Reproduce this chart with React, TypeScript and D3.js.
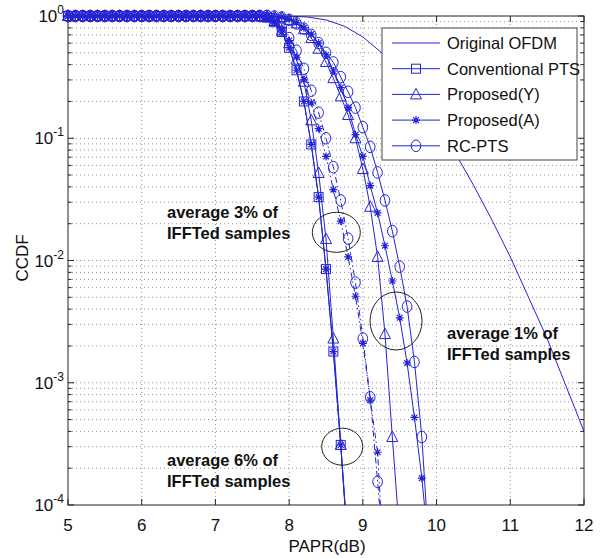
import React, { useEffect, useRef } from "react";
import * as d3 from "d3";

// PAPR grid (dB) shared by the marked curves
const paprGrid = [
  5.0, 5.1, 5.2, 5.3, 5.4, 5.5, 5.6, 5.7, 5.8, 5.9,
  6.0, 6.1, 6.2, 6.3, 6.4, 6.5, 6.6, 6.7, 6.8, 6.9,
  7.0, 7.1, 7.2, 7.3, 7.4, 7.5, 7.6, 7.7, 7.8, 7.9,
  8.0, 8.1, 8.2, 8.3, 8.4, 8.5, 8.6, 8.7, 8.8, 8.9,
  9.0, 9.1, 9.2, 9.3, 9.4, 9.5, 9.6, 9.7, 9.8, 9.9,
];

// Original OFDM (no markers)
const ofdmPapr = [5, 6, 7, 7.5, 8, 8.25, 8.5, 8.75, 9, 9.25, 9.5, 9.75, 10, 10.25, 10.5, 10.75, 11, 11.5, 12];
const ofdmCcdf = [1, 1, 1, 1, 0.997, 0.981, 0.929, 0.825, 0.674, 0.503, 0.346, 0.221, 0.133, 0.0763, 0.0414, 0.0215, 0.0107, 0.0023, 0.0004];

// Conventional PTS
const convPts = [
  1, 1, 1, 1, 1, 1, 1, 1, 1, 1,
  1, 1, 1, 1, 1, 1, 1, 1, 1, 1,
  1, 1, 1, 1, 1, 1, 0.995, 0.97, 0.89, 0.74,
  0.55, 0.36, 0.2, 0.089, 0.033, 0.0085, 0.0018, 0.00031, 0.000045,
];
// average 6%: Proposed(A) lies on top of conventional PTS
const propA6 = [
  1, 1, 1, 1, 1, 1, 1, 1, 1, 1,
  1, 1, 1, 1, 1, 1, 1, 1, 1, 1,
  1, 1, 1, 1, 1, 1, 0.995, 0.97, 0.89, 0.74,
  0.55, 0.36, 0.2, 0.089, 0.033, 0.0085, 0.0018, 0.00031, 0.000045,
];
// average 3%
const propY3 = [
  1, 1, 1, 1, 1, 1, 1, 1, 1, 1,
  1, 1, 1, 1, 1, 1, 1, 1, 1, 1,
  1, 1, 1, 1, 1, 1, 1, 0.98, 0.91, 0.76,
  0.6, 0.44, 0.29, 0.14, 0.052, 0.015, 0.0023, 0.00031, 0.00004,
];
const propA3 = [
  1, 1, 1, 1, 1, 1, 1, 1, 1, 1,
  1, 1, 1, 1, 1, 1, 1, 1, 1, 1,
  1, 1, 1, 1, 1, 1, 1, 0.98, 0.91, 0.79,
  0.63, 0.46, 0.3, 0.195, 0.12, 0.071, 0.038, 0.021, 0.0107, 0.0051,
  0.0021, 0.00072, 0.00027, 0.000022,
];
const rcPts3 = [
  1, 1, 1, 1, 1, 1, 1, 1, 1, 1,
  1, 1, 1, 1, 1, 1, 1, 1, 1, 1,
  1, 1, 1, 1, 1, 1, 1, 1, 0.94, 0.8,
  0.66, 0.52, 0.37, 0.245, 0.162, 0.1, 0.058, 0.031, 0.0151, 0.0066,
  0.0023, 0.00076, 0.000155, 0.00003,
];
// average 1%
const propY1 = [
  1, 1, 1, 1, 1, 1, 1, 1, 1, 1,
  1, 1, 1, 1, 1, 1, 1, 1, 1, 1,
  1, 1, 1, 1, 1, 1, 1, 1, 0.995, 0.98,
  0.93, 0.87, 0.78, 0.66, 0.54, 0.42, 0.31, 0.22, 0.155, 0.1,
  0.056, 0.0275, 0.0107, 0.0025, 0.00036, 0.000055,
];
const propA1 = [
  1, 1, 1, 1, 1, 1, 1, 1, 1, 1,
  1, 1, 1, 1, 1, 1, 1, 1, 1, 1,
  1, 1, 1, 1, 1, 1, 1, 1, 0.995, 0.98,
  0.94, 0.88, 0.8, 0.71, 0.6, 0.48, 0.355, 0.26, 0.178, 0.107,
  0.071, 0.041, 0.0245, 0.0132, 0.0068, 0.0034, 0.00145, 0.00052, 0.000166, 0.00004,
];
const rcPts1 = [
  1, 1, 1, 1, 1, 1, 1, 1, 1, 1,
  1, 1, 1, 1, 1, 1, 1, 1, 1, 1,
  1, 1, 1, 1, 1, 1, 1, 1, 0.99, 0.97,
  0.93, 0.87, 0.79, 0.7, 0.6, 0.5, 0.417, 0.316, 0.24, 0.178,
  0.123, 0.085, 0.0525, 0.031, 0.0174, 0.0089, 0.0042, 0.00148, 0.00036, 0.00004,
];

const legendLabels = ["Original OFDM", "Conventional PTS", "Proposed(Y)", "Proposed(A)", "RC-PTS"];
const legendMarkers = ["none", "square", "triangle", "star", "circle"];

const xTicks = [5, 6, 7, 8, 9, 10, 11, 12];
const yDecades = [1, 0.1, 0.01, 0.001, 0.0001];

// annotation ellipses: centre in data units
const notes = [
  { papr: 8.64, ccdf: 0.017, rx: 24, ry: 20, text: ["average 3% of", "IFFTed samples"], tx: 167, ty: 218 },
  { papr: 9.45, ccdf: 0.0032, rx: 26, ry: 29, text: ["average 1% of", "IFFTed samples"], tx: 447, ty: 339 },
  { papr: 8.72, ccdf: 0.0003, rx: 20.5, ry: 18.5, text: ["average 6% of", "IFFTed samples"], tx: 167, ty: 466 },
];

const BLUE = "#2424d4";
const FONT = "'Liberation Sans', Arial, sans-serif";

function drawMarker(g: any, kind: string, cx: number, cy: number) {
  if (kind === "square") {
    g.append("rect").attr("x", cx - 4.5).attr("y", cy - 4.5).attr("width", 9).attr("height", 9)
      .attr("fill", "none").attr("stroke", BLUE).attr("stroke-width", 1);
  } else if (kind === "triangle") {
    g.append("path").attr("d", `M${cx},${cy - 6}L${cx + 5.5},${cy + 4.5}L${cx - 5.5},${cy + 4.5}Z`)
      .attr("fill", "none").attr("stroke", BLUE).attr("stroke-width", 1);
  } else if (kind === "circle") {
    g.append("ellipse").attr("cx", cx).attr("cy", cy).attr("rx", 4.8).attr("ry", 5.8)
      .attr("fill", "none").attr("stroke", BLUE).attr("stroke-width", 1);
  } else if (kind === "star") {
    const s = 4;
    const d = 2.9;
    g.append("path")
      .attr("d", `M${cx - s},${cy}H${cx + s}M${cx},${cy - s}V${cy + s}M${cx - d},${cy - d}L${cx + d},${cy + d}M${cx - d},${cy + d}L${cx + d},${cy - d}`)
      .attr("stroke", BLUE).attr("stroke-width", 1.2).attr("fill", "none");
  }
}

export default function App() {
  const ref = useRef<SVGSVGElement>(null);

  useEffect(() => {
    const svg = d3.select(ref.current);
    svg.selectAll("*").remove();

    const left = 68, right = 584, top = 16, bottom = 505;
    const x = d3.scaleLinear().domain([5, 12]).range([left, right]);
    const y = d3.scaleLog().domain([1e-4, 1]).range([bottom, top]);

    svg.append("rect").attr("width", 600).attr("height", 558).attr("fill", "#fff");
    svg.append("defs").append("clipPath").attr("id", "plot")
      .append("rect").attr("x", left).attr("y", top).attr("width", right - left).attr("height", bottom - top);

    // grid
    const grid = svg.append("g").attr("stroke", "#777").attr("stroke-width", 0.8).attr("stroke-dasharray", "1,3");
    y.ticks().forEach((v) => {
      if (v <= 1e-4 || v >= 1) return;
      grid.append("line").attr("x1", left).attr("x2", right).attr("y1", y(v)).attr("y2", y(v));
    });
    xTicks.slice(1, -1).forEach((v) => {
      grid.append("line").attr("x1", x(v)).attr("x2", x(v)).attr("y1", top).attr("y2", bottom);
    });

    // ticks
    const ticks = svg.append("g").attr("stroke", "#222").attr("stroke-width", 1);
    y.ticks().forEach((v) => {
      const major = yDecades.includes(v);
      const len = major ? 6 : 3.5;
      ticks.append("line").attr("x1", left).attr("x2", left + len).attr("y1", y(v)).attr("y2", y(v));
      ticks.append("line").attr("x1", right).attr("x2", right - len).attr("y1", y(v)).attr("y2", y(v));
    });
    xTicks.forEach((v) => {
      ticks.append("line").attr("x1", x(v)).attr("x2", x(v)).attr("y1", bottom).attr("y2", bottom - 6);
      ticks.append("line").attr("x1", x(v)).attr("x2", x(v)).attr("y1", top).attr("y2", top + 6);
    });

    // curves (lines clipped, markers not)
    const plot = svg.append("g").attr("clip-path", "url(#plot)");
    const marks = svg.append("g");
    const line = d3.line<[number, number]>().x((d) => x(d[0])).y((d) => y(d[1]));

    const ofdmPts = ofdmPapr.map((p, i) => [p, ofdmCcdf[i]] as [number, number]);
    plot.append("path").attr("d", line(ofdmPts)).attr("fill", "none").attr("stroke", BLUE).attr("stroke-width", 1);

    const series = [
      { vals: convPts, marker: "square", dash: null },
      { vals: propA6, marker: "star", dash: null },
      { vals: propY3, marker: "triangle", dash: null },
      { vals: propA3, marker: "star", dash: "6,3,1.5,3" },
      { vals: rcPts3, marker: "circle", dash: "6,3,1.5,3" },
      { vals: propY1, marker: "triangle", dash: null },
      { vals: propA1, marker: "star", dash: null },
      { vals: rcPts1, marker: "circle", dash: null },
    ];

    series.forEach((s) => {
      const pts = s.vals.map((v, i) => [paprGrid[i], v] as [number, number]);
      plot.append("path").attr("d", line(pts)).attr("fill", "none").attr("stroke", BLUE)
        .attr("stroke-width", 1).attr("stroke-dasharray", s.dash);
      pts.forEach((p) => {
        if (p[1] < 1e-4) return;
        drawMarker(marks, s.marker, x(p[0]), y(p[1]));
      });
    });

    // box
    svg.append("rect").attr("x", left).attr("y", top).attr("width", right - left).attr("height", bottom - top)
      .attr("fill", "none").attr("stroke", "#222").attr("stroke-width", 1);
    svg.node()!.appendChild(marks.node()!);

    // tick labels
    xTicks.forEach((v) => {
      svg.append("text").attr("x", x(v)).attr("y", 531).attr("text-anchor", "middle")
        .attr("font-family", FONT).attr("font-size", 17).attr("fill", "#111").text(v);
    });
    yDecades.forEach((v) => {
      const t = svg.append("text").attr("x", 64).attr("y", y(v) + 6).attr("text-anchor", "end")
        .attr("font-family", FONT).attr("font-size", 17).attr("fill", "#111");
      t.append("tspan").text("10");
      t.append("tspan").attr("dy", -8).attr("font-size", 12).text(String(Math.round(Math.log10(v))));
    });

    svg.append("text").attr("x", 327).attr("y", 552).attr("text-anchor", "middle")
      .attr("font-family", FONT).attr("font-size", 17).attr("fill", "#111").text("PAPR(dB)");
    svg.append("text").attr("transform", "translate(28,258) rotate(-90)").attr("text-anchor", "middle")
      .attr("font-family", FONT).attr("font-size", 17).attr("fill", "#111").text("CCDF");

    // annotations
    notes.forEach((n) => {
      svg.append("ellipse").attr("cx", x(n.papr)).attr("cy", y(n.ccdf)).attr("rx", n.rx).attr("ry", n.ry)
        .attr("fill", "none").attr("stroke", "#222").attr("stroke-width", 1);
      n.text.forEach((line, i) => {
        svg.append("text").attr("x", n.tx).attr("y", n.ty + i * 21).attr("font-family", FONT)
          .attr("font-weight", "bold").attr("font-size", 16.5).attr("fill", "#111").text(line);
      });
    });

    // legend
    const lg = svg.append("g");
    lg.append("rect").attr("x", 382).attr("y", 28).attr("width", 195).attr("height", 132)
      .attr("fill", "#fff").attr("stroke", "#444").attr("stroke-width", 1);
    legendLabels.forEach((label, i) => {
      const cy = 43 + i * 25.7;
      lg.append("line").attr("x1", 392).attr("x2", 440).attr("y1", cy).attr("y2", cy)
        .attr("stroke", BLUE).attr("stroke-width", 1);
      drawMarker(lg, legendMarkers[i], 416, cy);
      lg.append("text").attr("x", 447).attr("y", cy + 6).attr("font-family", FONT)
        .attr("font-size", 16.5).attr("fill", "#111").text(label);
    });
  }, []);

  return (
    <svg ref={ref} width={600} height={558} style={{ position: "absolute", left: 0, top: 0 }} />
  );
}
